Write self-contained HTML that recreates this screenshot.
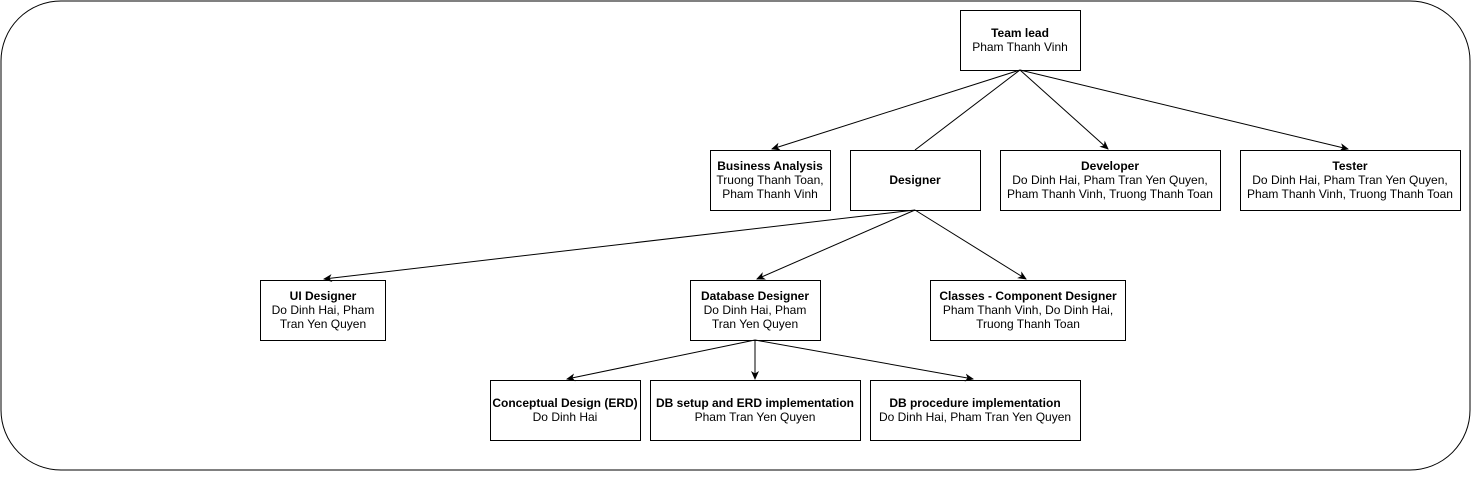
<!DOCTYPE html>
<html><head><meta charset="utf-8"><style>
html,body{margin:0;padding:0;background:#fff;}
svg text{font-family:"Liberation Sans",Arial,sans-serif;font-size:12px;fill:#000;}
.b{font-weight:bold;}
</style></head><body>
<svg width="1472" height="472" viewBox="0 0 1472 472" xmlns="http://www.w3.org/2000/svg">
<defs><marker id="a" markerWidth="10" markerHeight="10" refX="8" refY="4" orient="auto" markerUnits="userSpaceOnUse"><path d="M0,0 L9,4 L0,8 L2.5,4 Z" fill="#000"/></marker></defs>
<rect x="1" y="1" width="1469" height="469" rx="60" ry="60" fill="#fff" stroke="#000"/>
<g stroke="#000" fill="none">
<line x1="1020" y1="70" x2="772" y2="149" marker-end="url(#a)"/>
<line x1="1020" y1="70" x2="915" y2="150"/>
<line x1="1020" y1="70" x2="1108" y2="149" marker-end="url(#a)"/>
<line x1="1020" y1="70" x2="1348" y2="149" marker-end="url(#a)"/>
<line x1="915" y1="210" x2="324" y2="279" marker-end="url(#a)"/>
<line x1="915" y1="210" x2="757" y2="279" marker-end="url(#a)"/>
<line x1="915" y1="210" x2="1026" y2="279" marker-end="url(#a)"/>
<line x1="755" y1="340" x2="567" y2="379" marker-end="url(#a)"/>
<line x1="755" y1="340" x2="755" y2="379" marker-end="url(#a)"/>
<line x1="755" y1="340" x2="973" y2="379" marker-end="url(#a)"/>
<rect x="960.5" y="10.5" width="120" height="60"/>
<rect x="710.5" y="150.5" width="120" height="60"/>
<rect x="850.5" y="150.5" width="130" height="60"/>
<rect x="1000.5" y="150.5" width="220" height="60"/>
<rect x="1240.5" y="150.5" width="220" height="60"/>
<rect x="260.5" y="280.5" width="125" height="60"/>
<rect x="690.5" y="280.5" width="130" height="60"/>
<rect x="930.5" y="280.5" width="195" height="60"/>
<rect x="490.5" y="380.5" width="150" height="60"/>
<rect x="650.5" y="380.5" width="210" height="60"/>
<rect x="870.5" y="380.5" width="210" height="60"/>
</g>
<g text-anchor="middle">
<text x="1020" y="37" class="b">Team lead</text><text x="1020" y="51">Pham Thanh Vinh</text>
<text x="770" y="170" class="b">Business Analysis</text><text x="770" y="184">Truong Thanh Toan,</text><text x="770" y="198">Pham Thanh Vinh</text>
<text x="915" y="184" class="b">Designer</text>
<text x="1110" y="170" class="b">Developer</text><text x="1110" y="184">Do Dinh Hai, Pham Tran Yen Quyen,</text><text x="1110" y="198">Pham Thanh Vinh, Truong Thanh Toan</text>
<text x="1350" y="170" class="b">Tester</text><text x="1350" y="184">Do Dinh Hai, Pham Tran Yen Quyen,</text><text x="1350" y="198">Pham Thanh Vinh, Truong Thanh Toan</text>
<text x="323" y="300" class="b">UI Designer</text><text x="323" y="314">Do Dinh Hai, Pham</text><text x="323" y="328">Tran Yen Quyen</text>
<text x="755" y="300" class="b">Database Designer</text><text x="755" y="314">Do Dinh Hai, Pham</text><text x="755" y="328">Tran Yen Quyen</text>
<text x="1028" y="300" class="b">Classes - Component Designer</text><text x="1028" y="314">Pham Thanh Vinh, Do Dinh Hai,</text><text x="1028" y="328">Truong Thanh Toan</text>
<text x="565" y="407" class="b">Conceptual Design (ERD)</text><text x="565" y="421">Do Dinh Hai</text>
<text x="755" y="407" class="b">DB setup and ERD implementation</text><text x="755" y="421">Pham Tran Yen Quyen</text>
<text x="975" y="407" class="b">DB procedure implementation</text><text x="975" y="421">Do Dinh Hai, Pham Tran Yen Quyen</text>
</g>
</svg>
</body></html>
